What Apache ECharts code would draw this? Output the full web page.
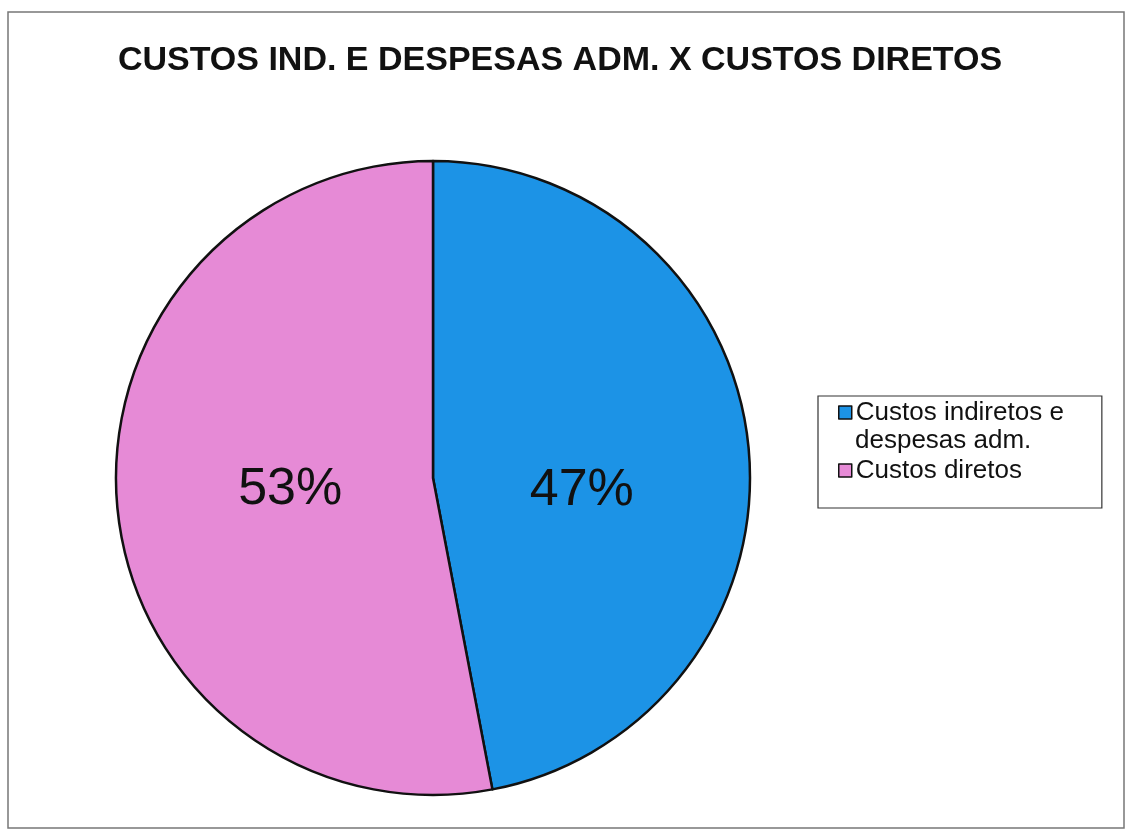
<!DOCTYPE html>
<html>
<head>
<meta charset="utf-8">
<script src="https://cdn.jsdelivr.net/npm/echarts@6/dist/echarts.min.js"></script>
<style>
html,body{margin:0;padding:0;background:#fff;}
#c{width:1133px;height:831px;}
</style>
</head>
<body>
<div id="c"></div>
<script>
const titleText = 'CUSTOS IND. E DESPESAS ADM. X CUSTOS DIRETOS';
const categories = ['Custos indiretos e despesas adm.', 'Custos diretos'];
const legendFirstLines = ['Custos indiretos e', 'Custos diretos'];
const legendSecondLine = 'despesas adm.';
const values = [47, 53];
const colors = ['#1c93e6', '#e68ad6'];

const FONT = 'Liberation Sans, Arial';
const chart = echarts.init(document.getElementById('c'));
const data = categories.map((n, i) => ({ name: n, value: values[i], itemStyle: { color: colors[i] } }));
const labelShift = [[-12, 28], [18, -4]];
chart.setOption({
  animation: false,
  backgroundColor: '#fff',
  title: {
    text: titleText,
    left: 555, top: 39, textAlign: 'center',
    textStyle: { fontFamily: FONT, fontSize: 34, fontWeight: 'bold', color: '#111' }
  },
  graphic: [{
    type: 'rect', shape: { x: 8, y: 12, width: 1116, height: 816 },
    style: { fill: 'none', stroke: '#777', lineWidth: 1.5 }, silent: true
  }, {
    type: 'text', left: 855, top: 428,
    style: { text: legendSecondLine, font: '26px ' + FONT, fill: '#111' }, silent: true
  }],
  legend: {
    orient: 'vertical',
    left: 818, top: 396,
    padding: [2, 38, 23, 20],
    itemGap: 29,
    itemWidth: 13, itemHeight: 13,
    borderColor: '#333', borderWidth: 1.2,
    icon: 'rect',
    data: categories,
    formatter: function (name) { return legendFirstLines[categories.indexOf(name)]; },
    itemStyle: { borderColor: '#111', borderWidth: 1.5 },
    textStyle: { fontFamily: FONT, fontSize: 26, color: '#111', lineHeight: 29, padding: [0, 0, 0, -1] }
  },
  series: [{
    type: 'pie',
    center: [433, 478],
    radius: 317,
    startAngle: 90,
    clockwise: true,
    data: data,
    itemStyle: { borderColor: '#111', borderWidth: 2.5 },
    label: {
      position: 'inside',
      formatter: function (p) { return Math.round(p.percent) + '%'; },
      fontFamily: FONT, fontSize: 52, color: '#111'
    },
    labelLayout: function (p) { return { dx: labelShift[p.dataIndex][0], dy: labelShift[p.dataIndex][1] }; },
    labelLine: { show: false },
    emphasis: { disabled: true }
  }]
});
</script>
</body>
</html>
